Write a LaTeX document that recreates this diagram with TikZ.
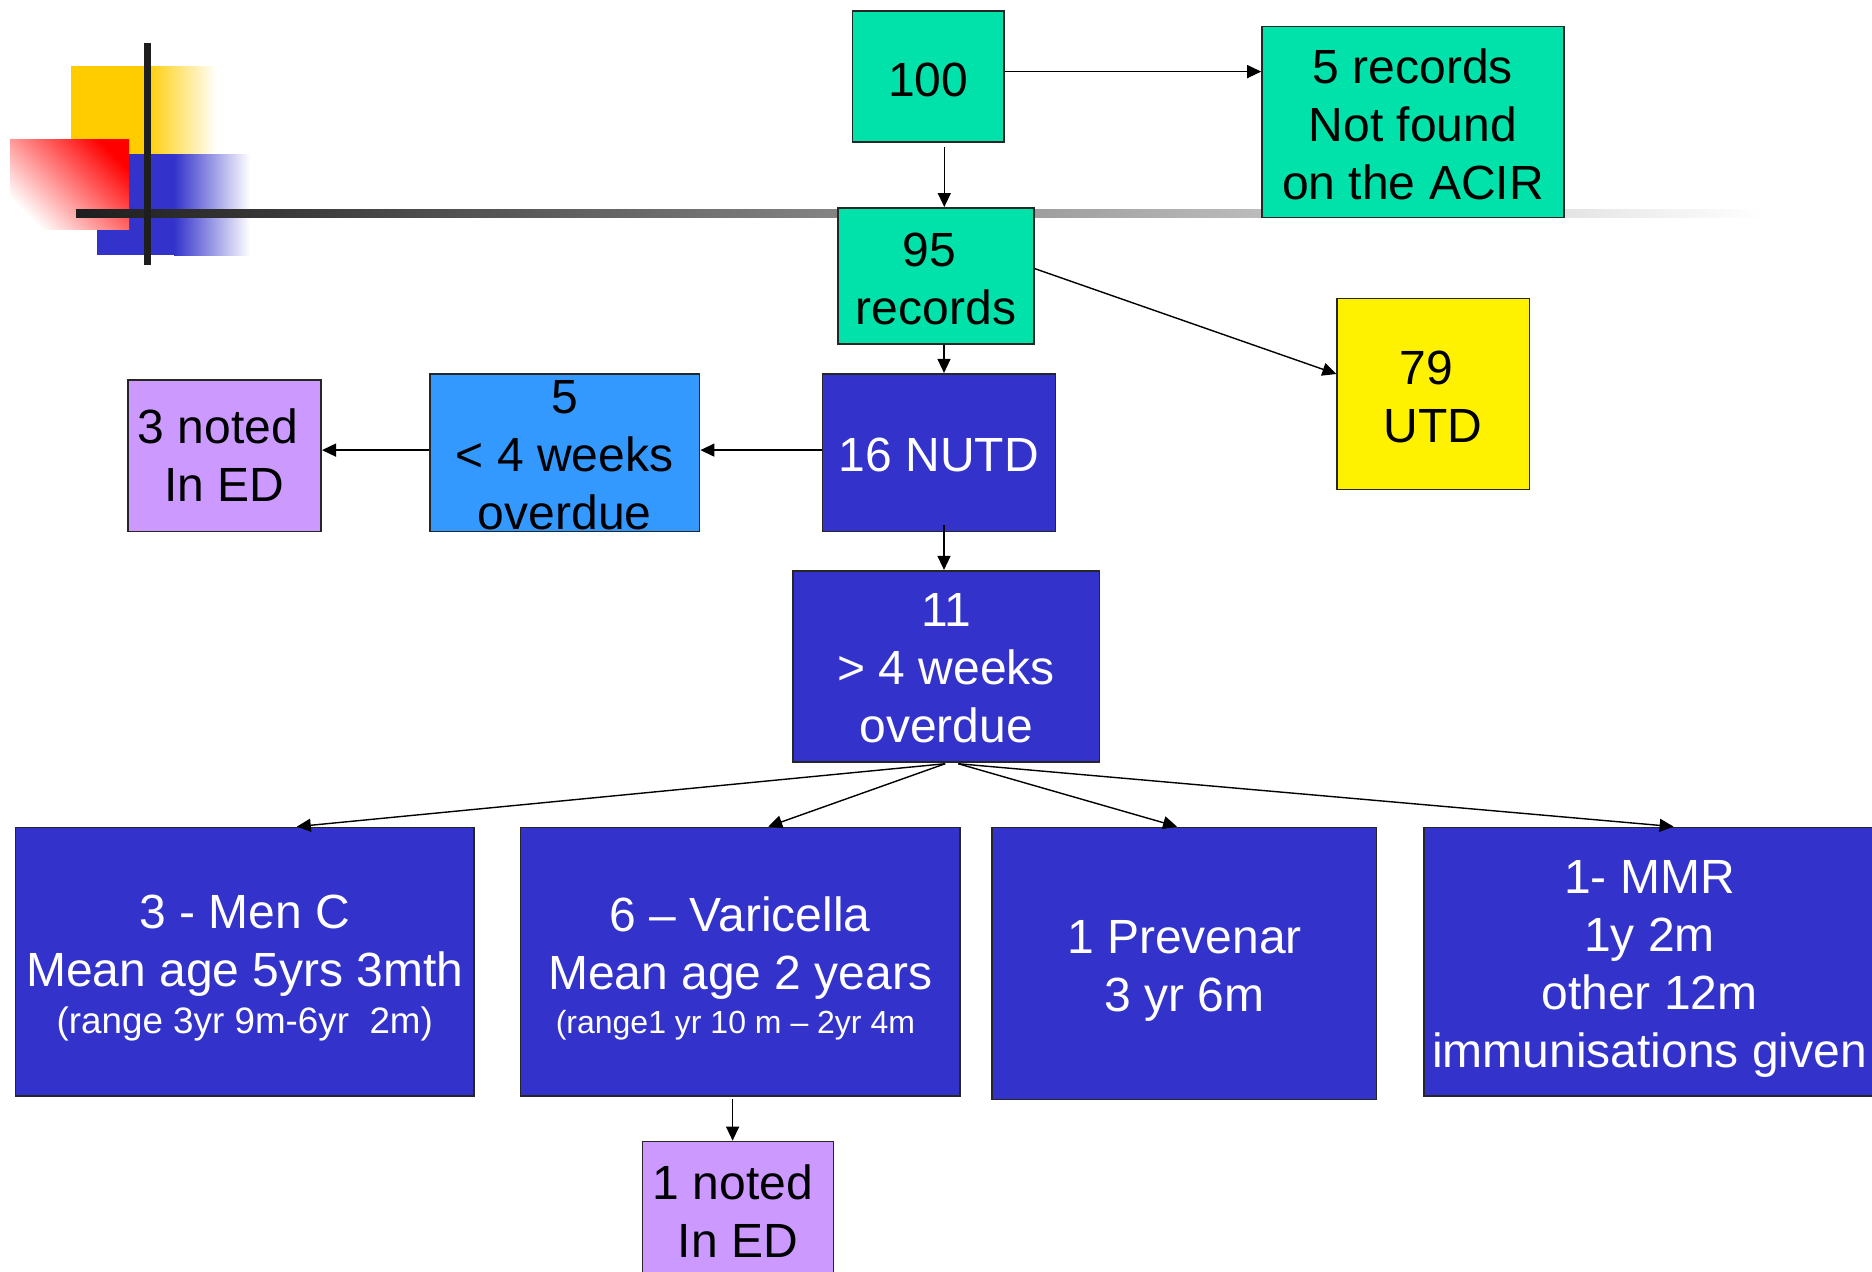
\documentclass[tikz,border=0pt]{standalone}
\usepackage{fontspec}
\setmainfont{Liberation Sans}
\usetikzlibrary{arrows.meta,calc}
\definecolor{teal1}{RGB}{0,226,170}
\definecolor{navy1}{RGB}{51,51,204}
\definecolor{sky1}{RGB}{51,153,255}
\definecolor{lav1}{RGB}{204,153,255}
\definecolor{gold1}{RGB}{255,204,0}
\definecolor{bar1}{RGB}{30,30,30}
\newcommand\tsp{\hspace*{0.28em}}
\begin{document}
\begin{tikzpicture}[x=0.5pt,y=-0.5pt,
 box/.style={draw=black!85, line width=0.8pt, inner sep=0pt},
 txt/.style={align=center, inner sep=0pt, font=\fontsize{24}{29}\selectfont},
 wtxt/.style={txt, text=white},
 tealbox/.style={box, fill=teal1},
 navybox/.style={box, fill=navy1},
 arr/.style={-{Triangle[length=7pt,width=6.5pt]}, line width=0.7pt, black}]
\useasboundingbox (0,0) rectangle (1872,1271);
\clip (0,0) rectangle (1872,1271);
\fill[white] (0,0) rectangle (1872,1271);
% decoration
\fill[gold1] (71,66) rectangle (146,155);
\shade[left color=gold1, right color=white] (145,66) rectangle (217,155);
\fill[navy1] (97,154) rectangle (175,255);
\shade[left color=navy1, right color=white] (174,154) rectangle (250,255);
\shade[top color=red, bottom color=white, shading angle=-45] (10,139) rectangle (129,229);
\shade[left color=bar1, right color=white] (76,209) rectangle (1765,217);
\fill[bar1] (144,43) rectangle (151,265);
% boxes
\node[tealbox, minimum width=75.8pt, minimum height=65.7pt,
  label={[txt, yshift=-1.8pt]center:{100}}] (n100) at (928.3,76.4) {};
\node[tealbox, minimum width=151pt, minimum height=95.5pt,
  label={[txt, yshift=-1.2pt]center:{5 records\\Not found\tsp\\on the ACIR}}] (nNF) at (1413,121.8) {};
\node[tealbox, minimum width=97.9pt, minimum height=68pt,
  label={[txt, yshift=-1.5pt]center:{95\tsp\\records}}] (n95) at (936,275.8) {};
\node[box, fill=yellow, minimum width=96.1pt, minimum height=95.5pt,
  label={[txt, yshift=-1.5pt]center:{79\tsp\\UTD}}] (nUTD) at (1433.3,394) {};
\node[navybox, minimum width=116.4pt, minimum height=78.8pt,
  label={[wtxt, yshift=-1.2pt]center:{16 NUTD}}] (nNUTD) at (939,452.5) {};
\node[box, fill=sky1, minimum width=134.9pt, minimum height=78.8pt,
  label={[txt, yshift=-1.2pt]center:{5\\< 4 weeks\\overdue}}] (nLT) at (564.7,452.5) {};
\node[box, fill=lav1, minimum width=96.7pt, minimum height=75.8pt,
  label={[txt]center:{3 noted\tsp\\In ED}}] (nED3) at (224.5,455.5) {};
\node[navybox, minimum width=153.4pt, minimum height=95.5pt,
  label={[wtxt, yshift=-1.2pt]center:{11\\> 4 weeks\\overdue}}] (nGT) at (946.2,666.2) {};
\node[navybox, minimum width=229.2pt, minimum height=134.3pt,
  label={[wtxt, yshift=-3.3pt]center:{3 - Men C\\Mean age 5yrs 3mth\tsp\\[-5.4pt]{\fontsize{18.4}{22}\selectfont (range 3yr 9m-6yr\ \ 2m)}}}] (nMen) at (244.8,961.7) {};
\node[navybox, minimum width=219.7pt, minimum height=134.3pt,
  label={[wtxt, yshift=-3.6pt]center:{6 – Varicella\\Mean age 2 years\\[-7pt]{\fontsize{16}{20}\selectfont (range1 yr 10 m – 2yr 4m\hspace*{0.3em}}}}] (nVar) at (740.2,961.7) {};
\node[navybox, minimum width=192.2pt, minimum height=136.1pt,
  label={[wtxt, yshift=-3.6pt]center:{1 Prevenar\\3 yr 6m}}] (nPrev) at (1184.4,963.5) {};
\node[navybox, minimum width=225.7pt, minimum height=134.3pt,
  label={[wtxt, yshift=-3.6pt]center:{1- MMR\\1y 2m\\other 12m\tsp\\immunisations given}}] (nMMR) at (1649.6,961.7) {};
\node[box, fill=lav1, minimum width=95.5pt, minimum height=69.3pt,
  label={[txt]center:{1 noted\hspace*{0.2em}\\In ED}}] (nED1) at (737.8,1210.7) {};
% connectors
\coordinate (a1) at ([yshift=2.4pt]n100.east);
\draw[arr] (a1) -- (a1 -| nNF.west);
\coordinate (a2) at ([xshift=8pt,yshift=-2pt]n100.south);
\draw[arr] (a2) -- (a2 |- n95.north);
\draw[arr] ([yshift=3.6pt]n95.east) -- ([yshift=10pt]nUTD.west);
\coordinate (a4) at ([xshift=4pt]n95.south);
\draw[arr] (a4) -- (a4 |- nNUTD.north);
\coordinate (a5) at ([yshift=1.2pt]nNUTD.west);
\draw[arr] (a5) -- (a5 -| nLT.east);
\coordinate (a6) at ([yshift=1.2pt]nLT.west);
\draw[arr] (a6) -- (a6 -| nED3.east);
\coordinate (a7) at ([xshift=2.5pt,yshift=3.5pt]nNUTD.south);
\draw[arr] (a7) -- (a7 |- nGT.north);
\coordinate (fl) at ([xshift=-0.5pt,yshift=-0.6pt]nGT.south);
\coordinate (fr) at ([xshift=6pt,yshift=-0.6pt]nGT.south);
\draw[arr] (fl) -- ([xshift=26pt]nMen.north);
\draw[arr] (fl) -- ([xshift=14pt]nVar.north);
\draw[arr] (fr) -- ([xshift=-3.7pt]nPrev.north);
\draw[arr] (fr) -- ([xshift=12pt]nMMR.north);
\coordinate (a8) at ([xshift=-3.8pt,yshift=-1pt]nVar.south);
\draw[arr] (a8) -- (a8 |- nED1.north);
\end{tikzpicture}
\end{document}
